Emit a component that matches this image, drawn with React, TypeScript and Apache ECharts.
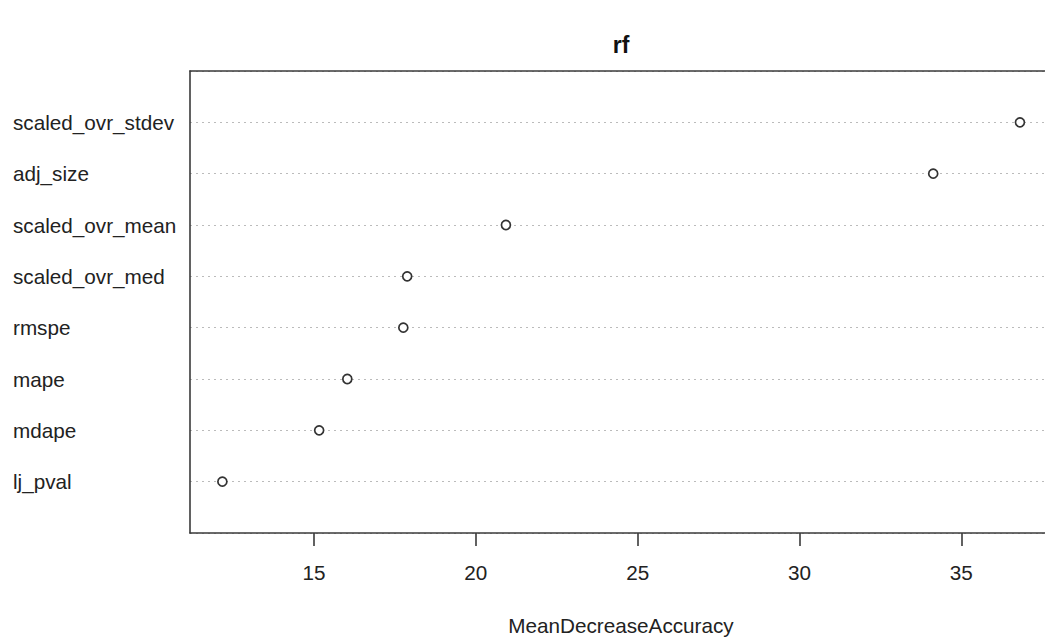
import React, { useEffect, useRef } from "react";
import * as echarts from "echarts";

const variables = [
  "scaled_ovr_stdev",
  "adj_size",
  "scaled_ovr_mean",
  "scaled_ovr_med",
  "rmspe",
  "mape",
  "mdape",
  "lj_pval",
];
const meanDecreaseAccuracy = [36.81, 34.13, 20.93, 17.88, 17.76, 16.03, 15.16, 12.17];
const xTicks = [15, 20, 25, 30, 35];
const chartTitle = "rf";
const xAxisTitle = "MeanDecreaseAccuracy";

const FONT = "'Liberation Sans', Arial, sans-serif";
const FS = 20.7;

export default function App() {
  const ref = useRef<HTMLDivElement>(null);
  useEffect(() => {
    if (!ref.current) return;
    const chart = echarts.init(ref.current, null, { renderer: "svg" });
    const n = variables.length;
    const data = variables.map((v, i) => [meanDecreaseAccuracy[i], n - i]);
    const labelFor = (val: number) => {
      const idx = n - val;
      return idx >= 0 && idx < n && Number.isInteger(val) ? variables[idx] : "";
    };
    const borderStyle = { color: "#3a3a3a", width: 1.6 };
    chart.setOption({
      animation: false,
      backgroundColor: "#fff",
      grid: {
        left: 190,
        top: 71,
        width: 862,
        height: 462,
        show: false,
        containLabel: false,
        outerBoundsMode: "none",
      },
      xAxis: [
        {
          type: "value",
          position: "bottom",
          min: 11.17,
          max: 37.8,
          axisLine: { show: true, onZero: false, lineStyle: borderStyle },
          axisTick: {
            show: true,
            inside: false,
            length: 13,
            customValues: xTicks,
            lineStyle: borderStyle,
          },
          axisLabel: {
            customValues: xTicks,
            margin: 29,
            fontSize: FS,
            fontFamily: FONT,
            color: "#222",
          },
          splitLine: { show: false },
          z: 10,
        },
        {
          type: "value",
          position: "top",
          min: 11.17,
          max: 37.8,
          axisLine: { show: true, onZero: false, lineStyle: borderStyle },
          axisTick: { show: false },
          axisLabel: { show: false },
          splitLine: { show: false },
          z: 10,
        },
      ],
      yAxis: {
        type: "value",
        min: 0,
        max: n + 1,
        interval: 1,
        axisLine: { show: true, onZero: false, lineStyle: borderStyle },
        axisTick: { show: false },
        axisLabel: {
          align: "left",
          margin: 177,
          fontSize: FS,
          fontFamily: FONT,
          color: "#222",
          formatter: (v: number) => labelFor(v),
        },
        splitLine: {
          show: true,
          lineStyle: { color: "#bbb", type: [2, 4], width: 1 },
        },
        z: 1,
      },
      graphic: [
        {
          type: "text",
          x: 621,
          y: 45,
          style: {
            text: chartTitle,
            font: `bold 23px ${FONT}`,
            fill: "#111",
            align: "center",
            verticalAlign: "middle",
          },
        },
        {
          type: "text",
          x: 621,
          y: 625,
          style: {
            text: xAxisTitle,
            font: `${FS}px ${FONT}`,
            fill: "#222",
            align: "center",
            verticalAlign: "middle",
          },
        },
      ],
      series: [
        {
          type: "scatter",
          xAxisIndex: 0,
          data,
          symbol: "circle",
          symbolSize: 9,
          itemStyle: { color: "#fff", borderColor: "#333", borderWidth: 1.7, opacity: 1 },
          z: 5,
        },
      ],
    });
    return () => chart.dispose();
  }, []);
  return (
    <div
      ref={ref}
      style={{ position: "fixed", left: 0, top: 0, width: 1045, height: 637, overflow: "hidden" }}
    />
  );
}
